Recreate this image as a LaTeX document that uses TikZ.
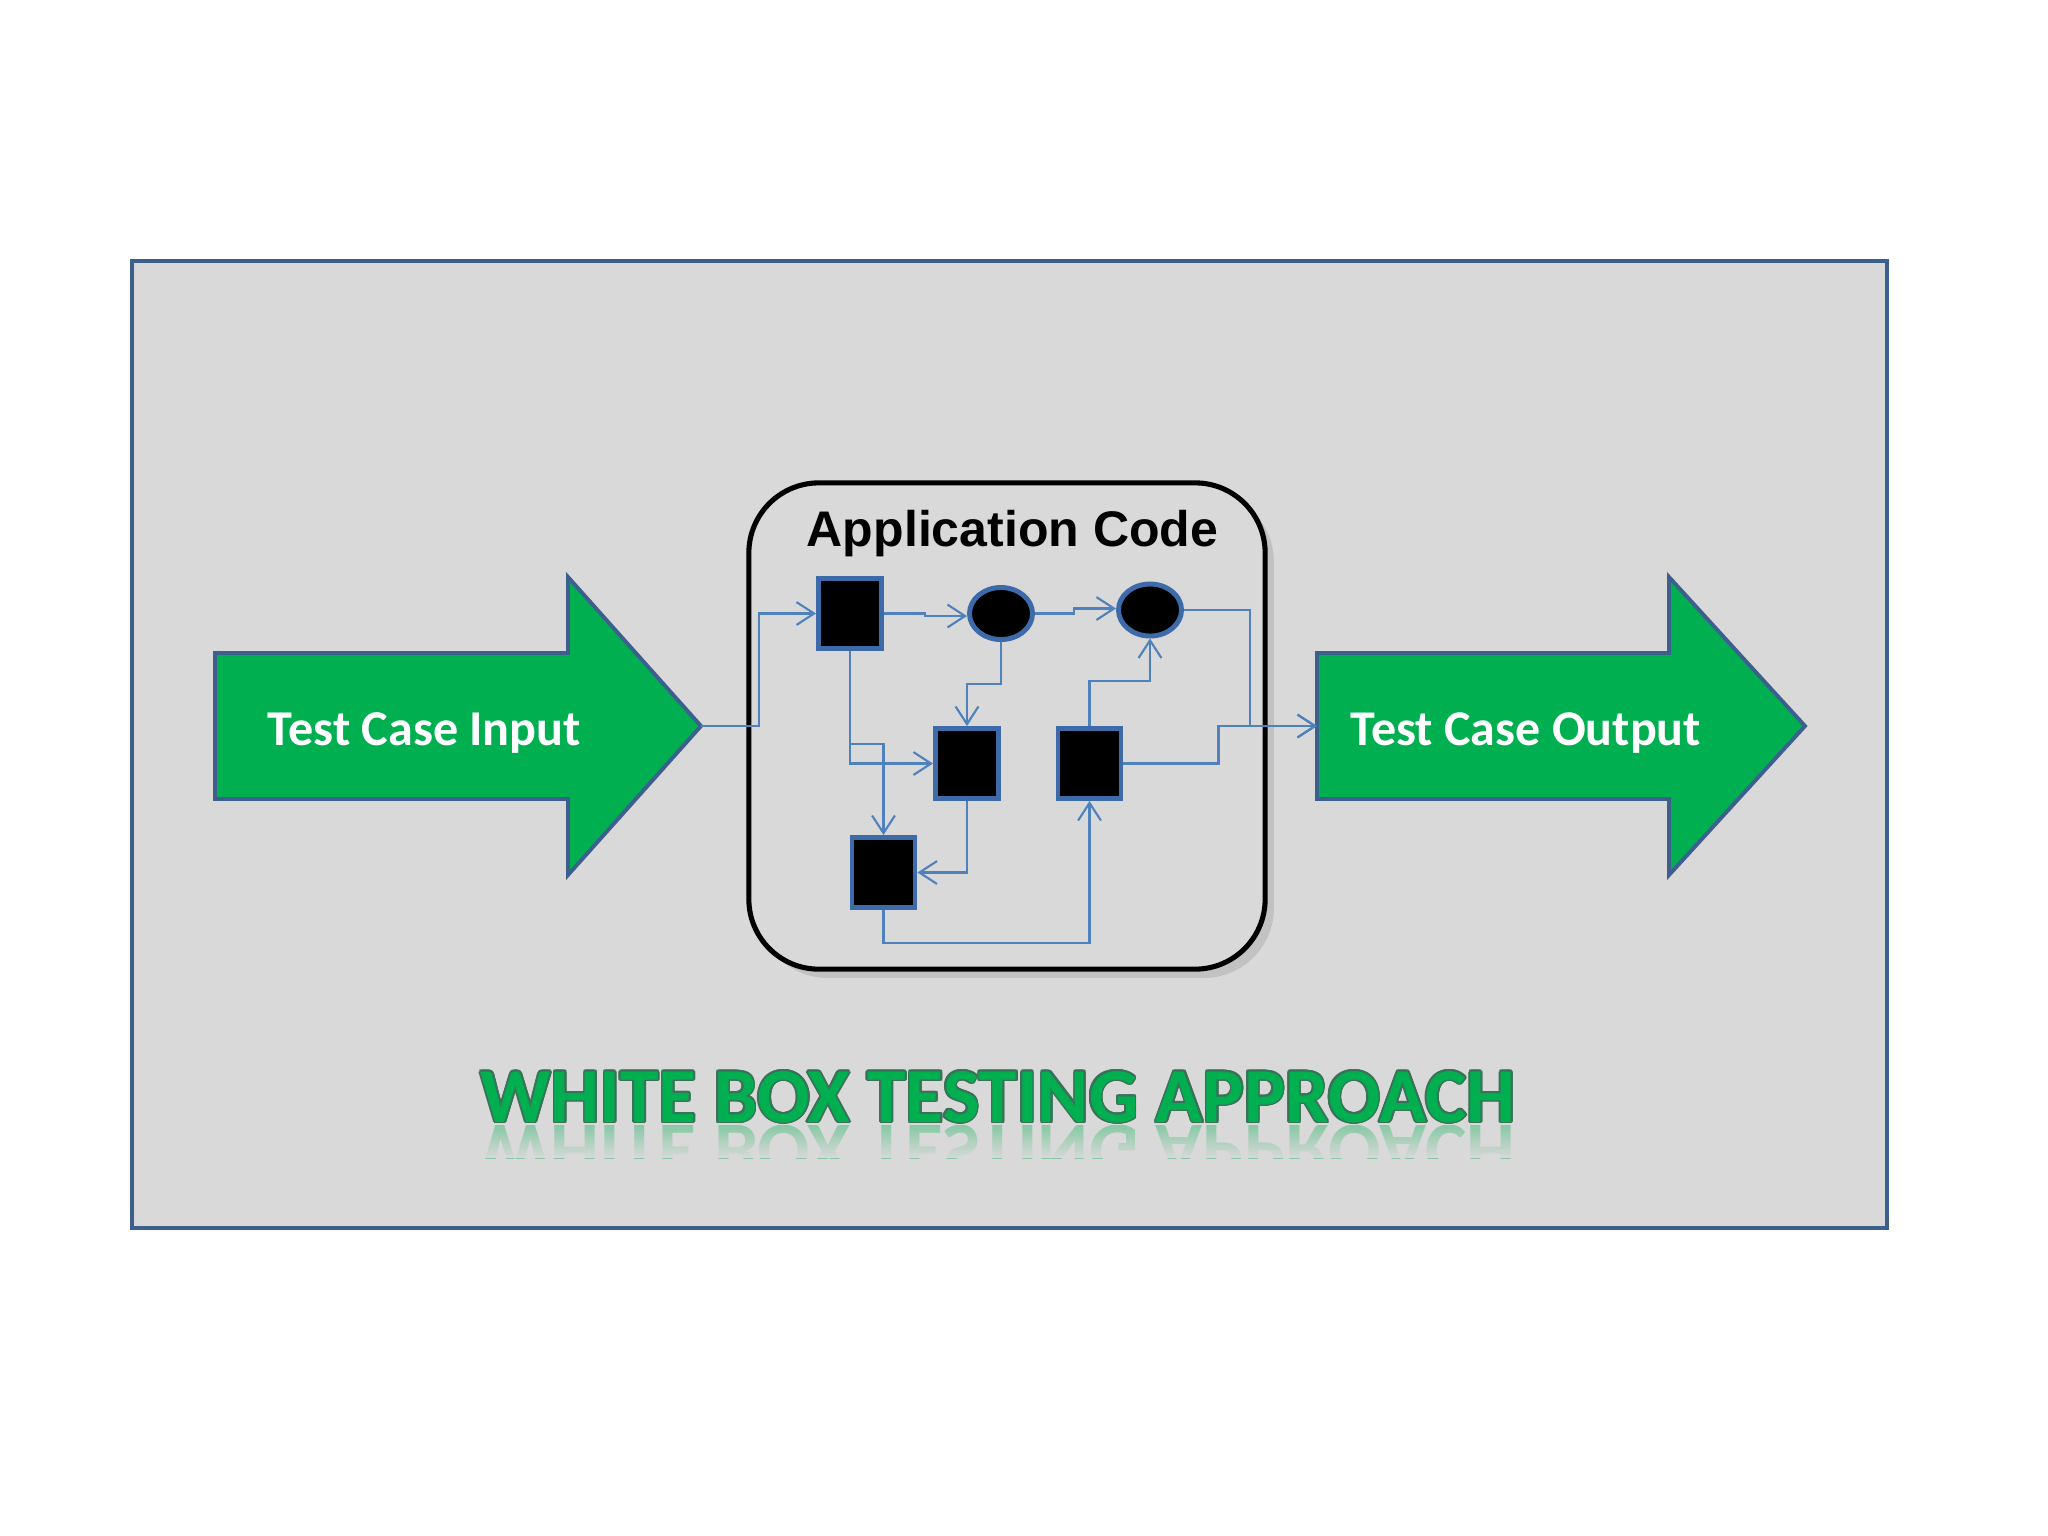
\documentclass[tikz,border=0pt]{standalone}
\usepackage{fontspec}
\setmainfont{Carlito}
\newfontfamily\arialfont{Liberation Sans}
\newfontfamily\calfont{Carlito}
\usepackage{contour}
\contourlength{0.22pt}
\usetikzlibrary{arrows.meta,shadows,shapes.geometric,fadings}
\definecolor{framefill}{HTML}{D9D9D9}
\definecolor{framedraw}{HTML}{3C5F8E}
\definecolor{arrgreen}{HTML}{00B050}
\definecolor{conncol}{HTML}{4F81BD}
\definecolor{sqdraw}{HTML}{3D6AA8}
\definecolor{titleline}{HTML}{3A7258}
\tikzfading[name=fadedown, top color=transparent!100, bottom color=transparent!0]
\begin{document}
\begin{tikzpicture}[x=0.01cm,y=-0.01cm,
  conn/.style={draw=conncol, line width=0.6pt, -{Straight Barb[length=5pt,width=6.5pt]}},
  sq/.style={rectangle, draw=sqdraw, fill=black, line width=1.4pt, minimum width=0.63cm, minimum height=0.70cm, inner sep=0pt},
  ell/.style={ellipse, draw=sqdraw, fill=black, line width=1.4pt, minimum width=0.63cm, minimum height=0.52cm, inner sep=0pt},
  bigarrow/.style={fill=arrgreen, draw=framedraw, line width=1.1pt, line join=miter}]
\useasboundingbox (0,0) rectangle (2048,1535);
\fill[white] (0,0) rectangle (2048,1535);
% frame
\draw[fill=framefill, draw=framedraw, line width=1.4pt] (132,261) rectangle (1887,1228);
% big arrows
\draw[bigarrow] (215,653) -- (568,653) -- (568,577) -- (701,726) -- (568,875) -- (568,799) -- (215,799) -- cycle;
\draw[bigarrow] (1317,653) -- (1669,653) -- (1669,577) -- (1805,726) -- (1669,875) -- (1669,799) -- (1317,799) -- cycle;
\coordinate (intip) at (701,726);
\coordinate (outbase) at (1317,726);
\node[anchor=base, text=white, inner sep=0pt] (intext) at (424.5,745) {\resizebox{3.13cm}{!}{\calfont\bfseries Test Case Input}};
\node[anchor=base, text=white, inner sep=0pt] (outtext) at (1526,745) {\resizebox{3.50cm}{!}{\calfont\bfseries Test Case Output}};
% application box
\node[rectangle, rounded corners=0.7cm, draw=black, fill=framefill, line width=1.45pt,
  minimum width=5.16cm, minimum height=4.86cm,
  drop shadow={shadow xshift=2.5pt, shadow yshift=-2.5pt, opacity=0.25}] (app) at (1007,726) {};
\node[anchor=base, inner sep=0pt] (apptitle) at (1012.5,546) {\resizebox{4.11cm}{!}{\arialfont\bfseries Application Code}};
% blocks
\node[sq] (s1) at (850,613.5) {};
\node[ell] (e1) at (1001,613.5) {};
\node[ell] (e2) at (1150,610) {};
\node[sq] (s2) at (967,763.5) {};
\node[sq] (s3) at (1089.5,763.5) {};
\node[sq] (s4) at (883.5,872.5) {};
% connectors
\draw[conn] (intip) -- ++(58,0) |- (s1.west);
\draw[conn] (s1.east) -- ++(41,0) -- ++(0,2.5) -- ++(42,0);
\draw[conn] (e1.east) -- ++(39,0) -- ++(0,-5) -- ++(42,0);
\draw[conn] (e1.south) -- ++(0,42) -| (s2.north);
\draw[conn] (s1.south) |- (s2.west);
\draw[conn] (s1.south) -- ++(0,93) -| (s4.north);
\draw[conn] (s2.south) |- (s4.east);
\draw[conn] (s4.south) -- ++(0,33) -| (s3.south);
\draw[conn] (s3.north) -- ++(0,-45) -| (e2.south);
\draw[conn] (e2.east) -- ++(66,0) |- (outbase);
\draw[conn] (s3.east) -- ++(95,0) |- (outbase);
% title reflection
\begin{scope}
  \clip (400,1125) rectangle (1600,1158);
  \node[anchor=base, yscale=-1, inner sep=0pt, text=arrgreen!38!framefill] (refl) at (998,1125) {\resizebox{10.34cm}{!}{\calfont\bfseries WHITE BOX TESTING APPROACH}};
  \fill[framefill, path fading=fadedown] (400,1125) rectangle (1600,1158);
\end{scope}
% title
\node[anchor=base, inner sep=0pt] (title) at (998,1122) {\resizebox{10.34cm}{!}{\calfont\bfseries\color{arrgreen}\contour{titleline}{WHITE BOX TESTING APPROACH}}};
\end{tikzpicture}
\end{document}
